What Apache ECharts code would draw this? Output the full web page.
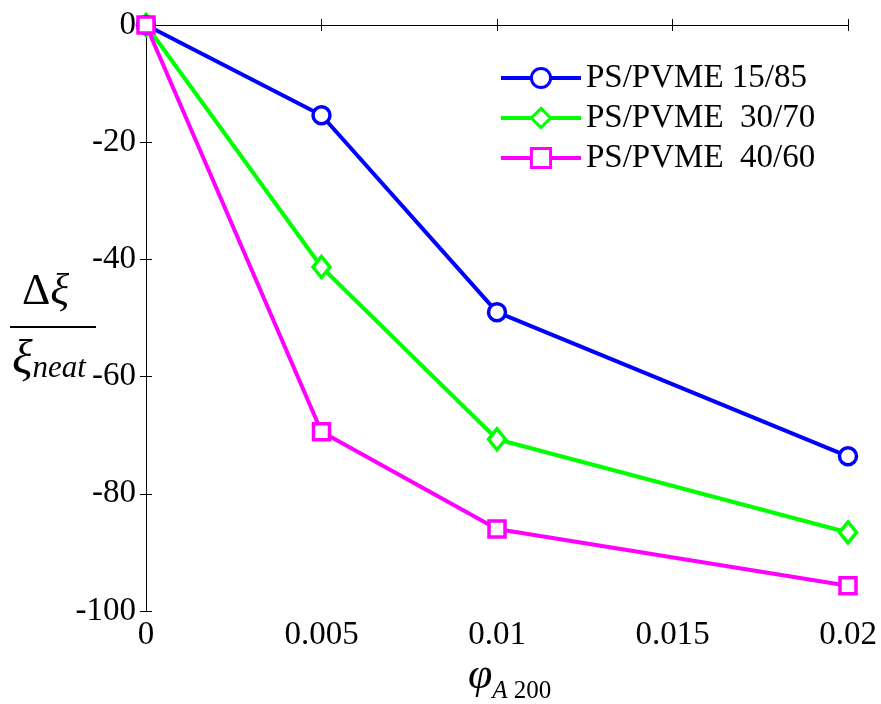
<!DOCTYPE html>
<html><head><meta charset="utf-8">
<script src="https://cdn.jsdelivr.net/npm/echarts@6/dist/echarts.min.js"></script>
<style>html,body{margin:0;padding:0;background:#fff}#c{width:881px;height:704px}</style>
</head><body><div id="c"></div>
<script>
const xValues = [0, 0.005, 0.01, 0.02];
const xTicks = [0, 0.005, 0.01, 0.015, 0.02];
const yTicks = [0, -20, -40, -60, -80, -100];
const seriesNames = ['PS/PVME 15/85', 'PS/PVME  30/70', 'PS/PVME  40/60'];
const blend1585 = [0, -15.4, -49.0, -73.6];
const blend3070 = [0, -41.3, -70.7, -86.6];
const blend4060 = [0, -69.4, -86.0, -95.7];

const font = 'Liberation Serif';
const chart = echarts.init(document.getElementById('c'), null, {renderer: 'canvas'});
const mk = (ys) => xValues.map((x, i) => [x, ys[i]]);
const axisLine = {show: true, lineStyle: {color: '#000', width: 1}};
const tick = {show: true, inside: true, length: 6, lineStyle: {color: '#000'}};
const lab = {fontFamily: font, fontSize: 33, color: '#000'};
chart.setOption({
  animation: false,
  backgroundColor: '#fff',
  textStyle: {fontFamily: font},
  grid: {left: 146, right: 33, top: 25, bottom: 93, containLabel: false},
  legend: {
    left: 494, top: 56, orient: 'vertical', itemWidth: 80, itemHeight: 24, itemGap: 6,
    lineStyle: {width: 4}, itemStyle: {borderWidth: 3},
    textStyle: {fontFamily: font, fontSize: 33, lineHeight: 34, color: '#000'},
    data: seriesNames
  },
  xAxis: [{
    type: 'value', min: 0, max: 0.02, interval: 0.005,
    axisLine, axisTick: tick, splitLine: {show: false},
    axisLabel: {fontFamily: font, fontSize: 33, color: '#000', margin: 8, rich: {a: lab},
      formatter: v => { const t = xTicks.find(k => Math.abs(k - v) < 1e-9); return t === undefined ? '' : '{a|' + t + '}'; }}
  }, {
    type: 'value', position: 'top', min: 0, max: 0.02, interval: 0.005,
    axisLine, axisTick: tick, axisLabel: {show: false}, splitLine: {show: false}
  }],
  yAxis: [{
    type: 'value', min: -100, max: 0, interval: 20,
    axisLine, axisTick: tick, splitLine: {show: false},
    axisLabel: {fontFamily: font, fontSize: 33, color: '#000', margin: 10, rich: {a: lab},
      formatter: v => { const t = yTicks.find(k => Math.abs(k - v) < 1e-9); return t === undefined ? '' : '{a|' + t + '}'; }}
  }, {
    type: 'value', position: 'right', min: -100, max: 0, interval: 20,
    axisLine, axisTick: tick, axisLabel: {show: false}, splitLine: {show: false}
  }],
  series: [
    {name: seriesNames[0], type: 'line', data: mk(blend1585), symbol: 'circle', symbolSize: 17,
     lineStyle: {color: '#0000ff', width: 4}, itemStyle: {color: '#fff', borderColor: '#0000ff', borderWidth: 3.5}, z: 4},
    {name: seriesNames[1], type: 'line', data: mk(blend3070), symbol: 'diamond', symbolSize: [17, 21],
     lineStyle: {color: '#00ff00', width: 4}, itemStyle: {color: '#fff', borderColor: '#00ff00', borderWidth: 3.5}, z: 3},
    {name: seriesNames[2], type: 'line', data: mk(blend4060), symbol: 'rect', symbolSize: 16,
     lineStyle: {color: '#ff00ff', width: 4}, itemStyle: {color: '#fff', borderColor: '#ff00ff', borderWidth: 3.5}, z: 5}
  ],
  graphic: [
    {type: 'text', left: 22, top: 270, style: {
      text: '{u|Δ}{i|ξ}', rich: {u: {fontFamily: font, fontSize: 44, fill: '#000'}, i: {fontFamily: font, fontSize: 44, fontStyle: 'italic', fill: '#000'}}}},
    {type: 'line', shape: {x1: 10, y1: 327, x2: 96, y2: 327}, style: {stroke: '#000', lineWidth: 2}},
    {type: 'text', left: 12, top: 336, style: {
      text: '{i|ξ}{s|neat}', rich: {i: {fontFamily: font, fontSize: 48, fontStyle: 'italic', fill: '#000', verticalAlign: 'bottom'},
        s: {fontFamily: font, fontSize: 31, fontStyle: 'italic', fill: '#000', padding: [22, 0, 0, 0], verticalAlign: 'bottom'}}}},
    {type: 'text', left: 468, top: 654, style: {
      text: '{i|φ}{a|A}{s| 200}', rich: {i: {fontFamily: font, fontSize: 44, fontStyle: 'italic', fill: '#000'},
        a: {fontFamily: font, fontSize: 25, fontStyle: 'italic', fill: '#000', padding: [30, 0, 0, 0]},
        s: {fontFamily: font, fontSize: 25, fill: '#000', padding: [30, 0, 0, 0]}}}}
  ]
});
</script></body></html>
